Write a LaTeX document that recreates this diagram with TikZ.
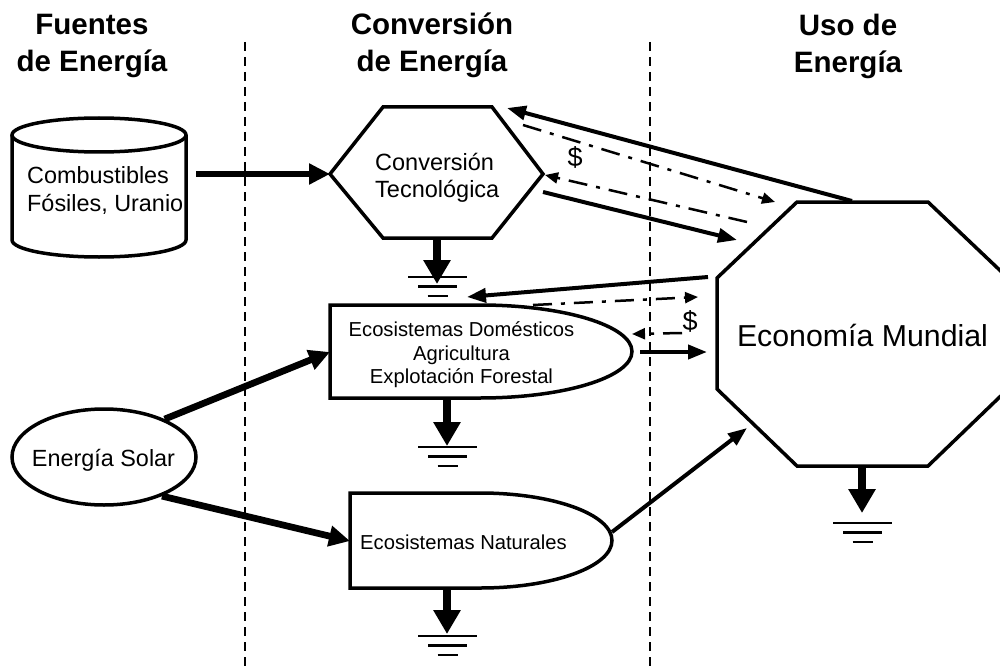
\documentclass[tikz,border=0pt]{standalone}
\usepackage{fontspec}
\setmainfont{Liberation Sans}
\usetikzlibrary{arrows.meta,shapes.geometric}

\tikzset{
  shapeline/.style={line width=3.5pt, line join=miter, draw=black, fill=white},
  divider/.style={line width=2.5pt, dash pattern=on 9pt off 6pt},
  heading/.style={inner sep=0pt, align=center, font=\fontsize{29.5}{37}\selectfont\bfseries},
  label/.style={inner sep=0pt, font=\fontsize{23.4}{28}\selectfont},
  smalllabel/.style={inner sep=0pt, font=\fontsize{20.2}{23.5}\selectfont},
  biglabel/.style={inner sep=0pt, font=\fontsize{30.3}{36}\selectfont},
  money/.style={inner sep=0pt, font=\fontsize{27}{30}\selectfont},
  feed/.style={line width=6.7pt, -{Triangle[length=21pt,width=20pt]}},
  sink/.style={line width=8pt, -{Triangle[length=24pt,width=26pt]}},
  flow/.style={line width=4pt, -{Triangle[length=19pt,width=14pt]}},
  cash/.style={line width=2.5pt, dash pattern=on 19pt off 9pt on 4pt off 9pt,
    -{Triangle[length=13pt,width=11pt]}},
  groundline/.style={line width=2.5pt},
  earth/.pic={
    \draw[groundline] (-29.5,0) -- (29.5,0);
    \draw[groundline] (-19.5,9.5) -- (19.5,9.5);
    \draw[groundline] (-10,19) -- (10,19);
  }
}

\begin{document}
\begin{tikzpicture}[x=1pt,y=-1pt]
\clip (0,0) rectangle (1000,671);
\fill[white] (0,0) rectangle (1000,671);

% column dividers
\draw[divider] (245,42) -- (245,671);
\draw[divider] (650,42) -- (650,671);

% column headings
\node[heading] (h1) at (92,46.1) {Fuentes\\de Energía};
\node[heading] (h2) at (432,45.4) {Conversión\\de Energía};
\node[heading] (h3) at (848,46.1) {Uso de\\Energía};

% fuel storage (cylinder)
\draw[shapeline] (12,135) -- (12,240)
  arc[start angle=180, end angle=0, x radius=87, y radius=17] -- (186,135);
\draw[shapeline] (99,135) ellipse[x radius=87, y radius=17];
\node[label, anchor=west, align=left] (fuel) at (27,190.2) {Combustibles\\Fósiles, Uranio};
\coordinate (fuelR) at (186,174);

% technological conversion (hexagon)
\coordinate (hexL) at (330,174);
\coordinate (hexTL) at (383,107);
\coordinate (hexTR) at (492,107);
\coordinate (hexR) at (543,174);
\coordinate (hexBR) at (492,238);
\coordinate (hexBL) at (383,238);
\draw[shapeline] (hexL) -- (hexTL) -- (hexTR) -- (hexR) -- (hexBR) -- (hexBL) -- cycle;
\node[label, anchor=west, align=left, font=\fontsize{23.5}{27}\selectfont] (tech) at (375,177.3) {Conversión\\Tecnológica};
\coordinate (hexB) at (437,238);
\coordinate (hexIn) at (507,108);
\coordinate (hexCashOut) at (523,125);
\coordinate (hexCashIn) at (545,175);
\coordinate (hexOut) at (543,192);
\coordinate (hexSink) at (437,284);

% world economy (octagon)
\coordinate (o1) at (797,202);
\coordinate (o2) at (928,202);
\coordinate (o3) at (1008,278);
\coordinate (o4) at (1008,389);
\coordinate (o5) at (928,466);
\coordinate (o6) at (797,466);
\coordinate (o7) at (717,389);
\coordinate (o8) at (717,278);
\draw[shapeline] (o1) -- (o2) -- (o3) -- (o4) -- (o5) -- (o6) -- (o7) -- (o8) -- cycle;
\node[biglabel, anchor=base] (econ) at (862.5,346) {Economía Mundial};
\coordinate (econTop) at (852,201);
\coordinate (econCashIn) at (775,202);
\coordinate (econCashOut) at (747,222);
\coordinate (econIn) at (737,240);
\coordinate (econOut) at (708,277);
\coordinate (econCashIn2) at (698,297);
\coordinate (econCashOut2) at (682,333);
\coordinate (econIn2) at (707,352);
\coordinate (econIn3) at (747,428);
\coordinate (econB) at (862,466);
\coordinate (econSink) at (862,513);

% domestic ecosystems
\draw[shapeline] (480,305) -- (330,305) -- (330,398) -- (480,398)
  arc[start angle=90, end angle=-90, x radius=152, y radius=46.5] -- cycle;
\node[smalllabel, align=center] (dom) at (461.5,355.1)
  {Ecosistemas Domésticos\\Agricultura\\Explotación Forestal};
\coordinate (domL) at (330,352);
\coordinate (domIn) at (467,297);
\coordinate (domCashOut) at (533,305);
\coordinate (domCashIn) at (632,334);
\coordinate (domOut) at (640,352);
\coordinate (domB) at (447,398);
\coordinate (domSink) at (447,446);

% natural ecosystems
\draw[shapeline] (480,493) -- (350,493) -- (350,588) -- (480,588)
  arc[start angle=90, end angle=-90, x radius=132, y radius=47.5] -- cycle;
\node[smalllabel, anchor=base west] (nat) at (360,549) {Ecosistemas Naturales};
\coordinate (natL) at (350,541);
\coordinate (natR) at (612,532);
\coordinate (natB) at (447,588);
\coordinate (natSink) at (447,634);

% solar energy
\node[ellipse, draw, line width=3.5pt, minimum width=184pt, minimum height=96pt, inner sep=0pt] (solar) at (104,457) {};
\node[label, anchor=base] (solartxt) at (103.5,466) {Energía Solar};

% energy flows
\draw[feed, shorten <=10pt] (fuelR) -- (hexL);
\draw[feed] (solar.32) -- (domL);
\draw[feed] (solar.-34) -- (natL);
\draw[flow] (econTop) -- (hexIn);
\draw[flow] (hexOut) -- (econIn);
\draw[flow] (econOut) -- (domIn);
\draw[flow] (domOut) -- (econIn2);
\draw[flow] (natR) -- (econIn3);

% money flows
\draw[cash] (hexCashOut) -- (econCashIn);
\draw[cash] (econCashOut) -- (hexCashIn);
\draw[cash] (domCashOut) -- (econCashIn2);
\draw[cash] (econCashOut2) -- (domCashIn);
\node[money, anchor=base] (usd1) at (575,167) {\$};
\node[money, anchor=base] (usd2) at (690,330) {\$};

% losses to heat sinks
\draw[sink] (hexB) -- (hexSink);
\draw[sink] (domB) -- (domSink);
\draw[sink] (natB) -- (natSink);
\draw[sink] (econB) -- (econSink);
\pic at (437.5,277) {earth};
\pic at (447.5,447) {earth};
\pic at (447.5,636) {earth};
\pic at (862.5,523) {earth};
\end{tikzpicture}
\end{document}
